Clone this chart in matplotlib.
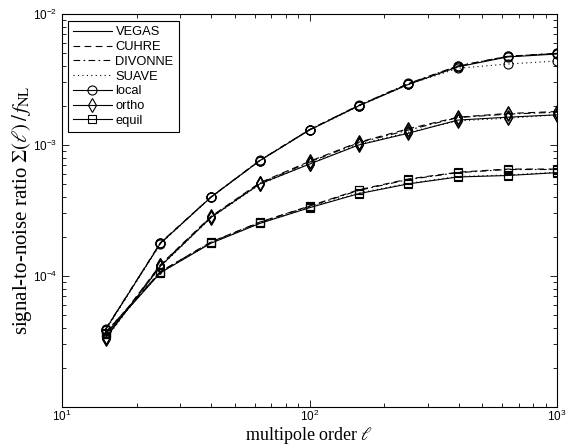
import numpy as np
import matplotlib
matplotlib.use("Agg")
import matplotlib.pyplot as plt
from matplotlib.lines import Line2D
from matplotlib.ticker import LogLocator, NullFormatter

plt.rcParams["font.family"] = ["Liberation Sans", "DejaVu Sans"]

# multipole orders where the signal-to-noise was evaluated
ell = [15, 25, 40, 63, 100, 158, 251, 398, 631, 1000]

# Sigma(l)/f_NL per shape and integrator
local_vegas = [3.9e-5, 1.78e-4, 4.0e-4, 7.6e-4, 1.30e-3, 1.99e-3, 2.90e-3, 3.95e-3, 4.70e-3, 4.95e-3]
local_cuhre = [3.9e-5, 1.80e-4, 4.0e-4, 7.6e-4, 1.31e-3, 2.00e-3, 2.93e-3, 4.00e-3, 4.75e-3, 5.00e-3]
local_divonne = [3.95e-5, 1.78e-4, 4.02e-4, 7.65e-4, 1.31e-3, 2.01e-3, 2.95e-3, 4.02e-3, 4.75e-3, 5.02e-3]
local_suave = [3.85e-5, 1.76e-4, 3.98e-4, 7.6e-4, 1.30e-3, 1.98e-3, 2.90e-3, 3.85e-3, 4.15e-3, 4.38e-3]

ortho_vegas = [3.35e-5, 1.19e-4, 2.80e-4, 5.05e-4, 7.15e-4, 1.00e-3, 1.23e-3, 1.55e-3, 1.63e-3, 1.70e-3]
ortho_cuhre = [3.4e-5, 1.22e-4, 2.85e-4, 5.15e-4, 7.5e-4, 1.05e-3, 1.33e-3, 1.63e-3, 1.74e-3, 1.80e-3]
ortho_divonne = [3.4e-5, 1.21e-4, 2.82e-4, 5.1e-4, 7.4e-4, 1.04e-3, 1.30e-3, 1.62e-3, 1.72e-3, 1.78e-3]
ortho_suave = [3.3e-5, 1.18e-4, 2.78e-4, 5.0e-4, 7.2e-4, 1.01e-3, 1.25e-3, 1.53e-3, 1.60e-3, 1.70e-3]

equil_vegas = [3.6e-5, 1.06e-4, 1.78e-4, 2.52e-4, 3.32e-4, 4.25e-4, 5.05e-4, 5.70e-4, 5.85e-4, 6.15e-4]
equil_cuhre = [3.7e-5, 1.08e-4, 1.82e-4, 2.58e-4, 3.42e-4, 4.55e-4, 5.50e-4, 6.20e-4, 6.55e-4, 6.55e-4]
equil_divonne = [3.7e-5, 1.08e-4, 1.81e-4, 2.57e-4, 3.40e-4, 4.50e-4, 5.45e-4, 6.15e-4, 6.50e-4, 6.50e-4]
equil_suave = [3.6e-5, 1.06e-4, 1.79e-4, 2.53e-4, 3.35e-4, 4.3e-4, 5.1e-4, 5.75e-4, 5.9e-4, 6.2e-4]

methods = ["VEGAS", "CUHRE", "DIVONNE", "SUAVE"]
shapes = ["local", "ortho", "equil"]
styles = {"VEGAS": "-", "CUHRE": (0, (6, 4)), "DIVONNE": (0, (6, 3, 1.5, 3)), "SUAVE": (0, (1, 3))}
markers = {"local": ("o", 6.5), "ortho": ("d", 7.0), "equil": ("s", 5.5)}
data = {
    "local": [local_vegas, local_cuhre, local_divonne, local_suave],
    "ortho": [ortho_vegas, ortho_cuhre, ortho_divonne, ortho_suave],
    "equil": [equil_vegas, equil_cuhre, equil_divonne, equil_suave],
}

fig = plt.figure(figsize=(5.7, 4.47), dpi=100)
ax = fig.add_axes([62 / 570, 1 - 407 / 447, 495 / 570, 393 / 447])

for s in shapes:
    mk, ms = markers[s]
    for m, vals in zip(methods, data[s]):
        ax.plot(ell, vals, linestyle=styles[m], color="k", lw=0.8,
                marker=mk, ms=ms, mfc="none", mec="k", mew=0.8)

ax.set_xscale("log")
ax.set_yscale("log")
ax.set_xlim(10, 1000)
ax.set_ylim(1e-5, 1e-2)

ax.set_xticks([10, 100, 1000], [r"$\mathregular{10^{1}}$", r"$\mathregular{10^{2}}$", r"$\mathregular{10^{3}}$"])
ax.set_yticks([1e-5, 1e-4, 1e-3, 1e-2], ["", r"$\mathregular{10^{-4}}$", r"$\mathregular{10^{-3}}$", r"$\mathregular{10^{-2}}$"])
ax.xaxis.set_minor_locator(LogLocator(base=10, subs=np.arange(2, 10)))
ax.yaxis.set_minor_locator(LogLocator(base=10, subs=np.arange(2, 10)))
ax.xaxis.set_minor_formatter(NullFormatter())
ax.yaxis.set_minor_formatter(NullFormatter())
ax.tick_params(which="both", direction="in", top=True, right=True, labelsize=8.5, width=0.6)
ax.tick_params(which="major", length=5)
ax.tick_params(which="minor", length=3)
ax.tick_params(axis="x", pad=1.5)
for sp in ax.spines.values():
    sp.set_linewidth(0.8)

ax.set_xlabel(r"multipole order $\ell$", fontsize=13, family="Liberation Serif",
              math_fontfamily="stix")
ax.xaxis.set_label_coords(0.5, -0.046, transform=ax.transAxes)
ax.xaxis.label.set_va("top")
ax.set_ylabel(r"signal-to-noise ratio $\Sigma(\ell)\,/\,f_{\rm NL}$", fontsize=15,
              family="Liberation Serif", math_fontfamily="stix")
ax.yaxis.set_label_coords(-0.057, 0.5, transform=ax.transAxes)

handles = [Line2D([], [], color="k", lw=0.8, linestyle=styles[m]) for m in methods]
handles += [Line2D([], [], color="k", lw=0.8, marker=markers[s][0], ms=markers[s][1],
                   mfc="none", mec="k", mew=0.8) for s in shapes]
leg = ax.legend(handles, methods + shapes, loc="upper left", bbox_to_anchor=(0.0115, 0.982),
                borderaxespad=0, fontsize=9.3, handlelength=3.0, handletextpad=0.3,
                labelspacing=0.21, numpoints=1, fancybox=False, framealpha=1,
                edgecolor="k", borderpad=0.4)
leg.get_frame().set_linewidth(0.8)

fig.savefig("out.png", dpi=100)
